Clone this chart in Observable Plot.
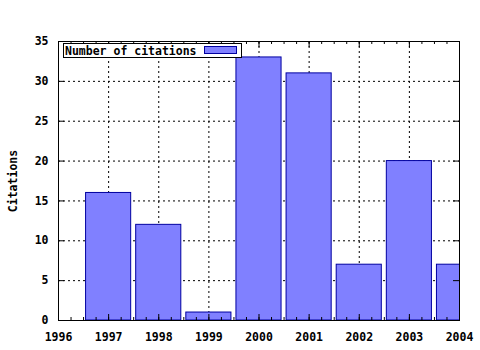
<!DOCTYPE html>
<html>
<head>
<meta charset="utf-8">
<script src="https://cdn.jsdelivr.net/npm/d3@7"></script>
<script src="https://cdn.jsdelivr.net/npm/@observablehq/plot@0.6"></script>
<style>
  html, body { margin: 0; padding: 0; background: #fff; }
  svg { display: block; }
</style>
</head>
<body>
<div id="chart"></div>
<script>
const years = [1997, 1998, 1999, 2000, 2001, 2002, 2003, 2004];
const citations = [16, 12, 1, 33, 31, 7, 20, 7];
const xTicks = [1996, 1997, 1998, 1999, 2000, 2001, 2002, 2003, 2004];
const yTicks = [0, 5, 10, 15, 20, 25, 30, 35];
const seriesName = "Number of citations";
const yLabel = "Citations";

const data = years.map((y, i) => ({year: y, value: citations[i]}));
const minorX = d3.range(1996, 2004.001, 0.25);
const gridX = xTicks.slice(1, -1);
const gridY = yTicks.slice(1, -1);

const W = 480, H = 350;
const mL = 58, mR = 21, mT = 41, mB = 30;
const pw = W - mL - mR, ph = H - mT - mB;
const font = "'DejaVu Sans Mono', monospace";

function legend() {
  return (index, scales, values, dims) => {
    const g = d3.create("svg:g");
    const x0 = mL + 5, y0 = mT + 2;
    g.append("rect").attr("x", x0 + 0.5).attr("y", y0 + 0.5).attr("width", 178).attr("height", 14)
      .attr("fill", "#fff").attr("stroke", "#000").attr("stroke-width", 1);
    g.append("text").attr("x", x0 + 2).attr("y", y0 + 11.5).text(seriesName)
      .attr("text-anchor", "start")
      .attr("font-family", font).attr("font-weight", "bold").attr("font-size", "11.5px").attr("fill", "#000");
    g.append("rect").attr("x", x0 + 141.5).attr("y", y0 + 3.5).attr("width", 32).attr("height", 7)
      .attr("fill", "#8080ff").attr("stroke", "#0000a0").attr("stroke-width", 1);
    return g.node();
  };
}

const chart = Plot.plot({
  width: W, height: H,
  marginLeft: mL, marginRight: mR, marginTop: mT, marginBottom: mB,
  style: {fontFamily: font, fontWeight: "bold", fontSize: "11.5px", color: "#000", background: "#fff"},
  x: {domain: [1996, 2004]},
  y: {domain: [0, 35]},
  marks: [
    Plot.ruleX(gridX, {x: d => d, stroke: "#000", strokeDasharray: "2,3", strokeWidth: 1, strokeOpacity: 1}),
    Plot.ruleY(gridY, {y: d => d, stroke: "#000", strokeDasharray: "2,3", strokeWidth: 1, strokeOpacity: 1}),
    Plot.rectY(data, {x1: d => d.year - 0.45, x2: d => d.year + 0.45, y1: 0, y2: "value",
      fill: "#8080ff", stroke: "#0000a0", strokeWidth: 1, clip: true}),
    // minor ticks (bottom and top)
    Plot.tickX(minorX, {x: d => d, insetTop: ph - 3, stroke: "#000"}),
    Plot.tickX(minorX, {x: d => d, insetBottom: ph - 3, stroke: "#000"}),
    // major ticks
    Plot.tickX(xTicks, {x: d => d, insetTop: ph - 6, stroke: "#000"}),
    Plot.tickX(xTicks, {x: d => d, insetBottom: ph - 6, stroke: "#000"}),
    Plot.tickY(yTicks, {y: d => d, insetRight: pw - 6, stroke: "#000"}),
    Plot.tickY(yTicks, {y: d => d, insetLeft: pw - 6, stroke: "#000"}),
    Plot.frame({stroke: "#000", strokeWidth: 1}),
    Plot.axisX(xTicks, {tickSize: 0, tickPadding: 12, tickFormat: d => String(d), label: null}),
    Plot.axisY(yTicks, {tickSize: 0, tickPadding: 10, tickFormat: d => String(d),
      label: yLabel, labelAnchor: "center", labelArrow: "none", labelOffset: 50}),
    legend()
  ]
});
document.getElementById("chart").appendChild(chart);
</script>
</body>
</html>
